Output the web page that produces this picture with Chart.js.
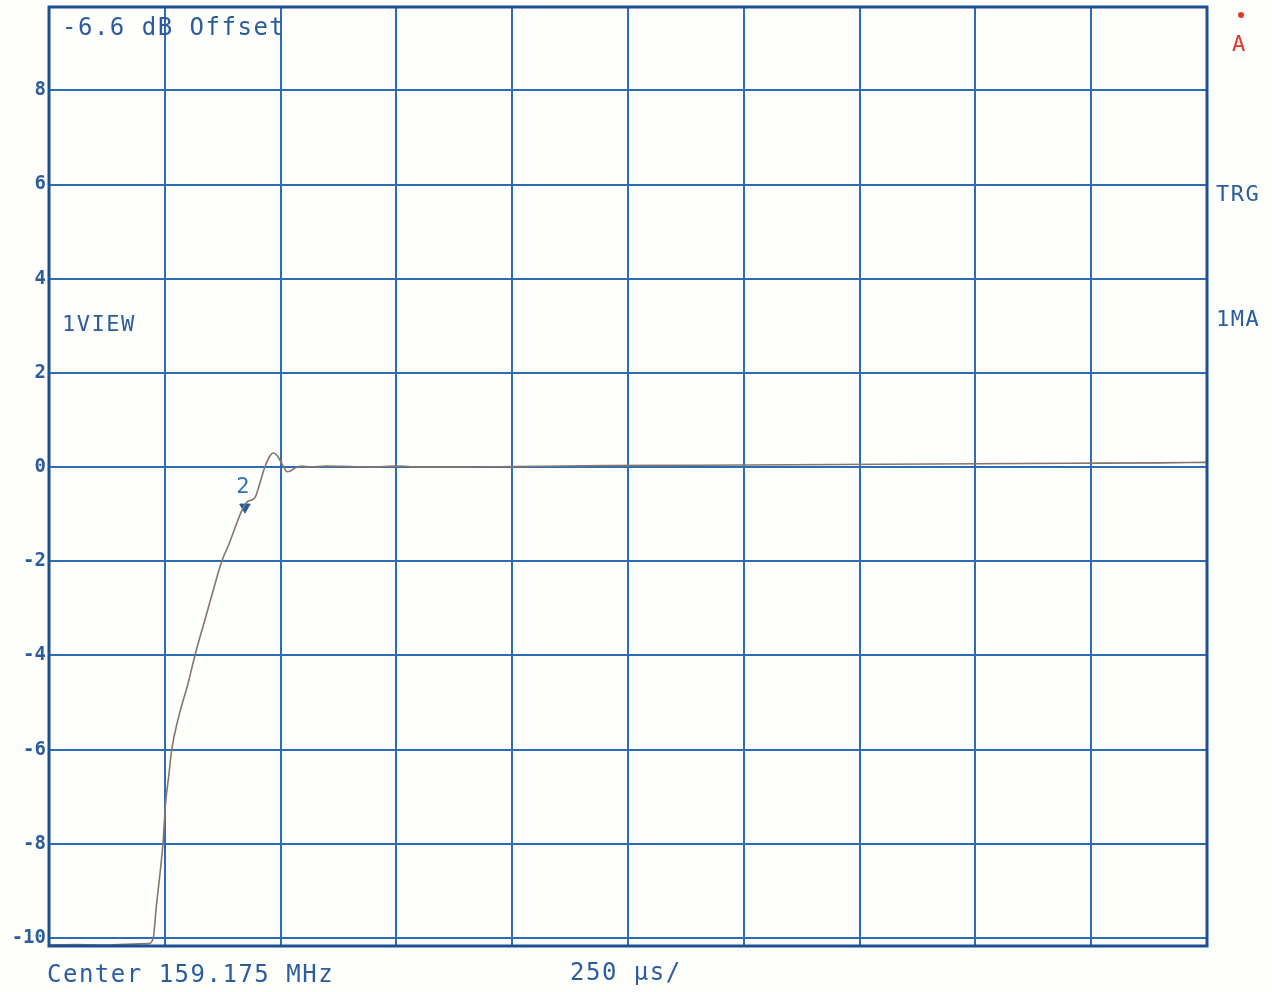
<!DOCTYPE html>
<html>
<head>
<meta charset="utf-8">
<script src="https://cdn.jsdelivr.net/npm/chart.js@4/dist/chart.umd.min.js"></script>
<style>
  body { margin: 0; background: #fefefd; }
  #wrap { width: 1272px; height: 992px; position: relative; }
</style>
</head>
<body>
<div id="wrap"><canvas id="myChart"></canvas></div>
<script>
// trace: time in µs from left edge, level in dB
var timeUs = [0, 60, 120, 180, 215, 225, 232, 240, 246, 252, 258, 265, 280, 300, 315, 335, 355, 373, 390, 405,
              415, 423, 430, 438, 446, 455, 466, 476, 484, 492, 500, 507, 514, 522, 531, 545, 563, 600, 650, 700,
              750, 800, 900, 1000, 1200, 1400, 1600, 1800, 2000, 2200, 2400, 2500];
var levelDb = [-10.15, -10.14, -10.15, -10.13, -10.12, -10.0, -9.3, -8.6, -8.0, -7.1, -6.6, -6.0, -5.3, -4.6, -4.0, -3.3, -2.6, -2.0, -1.6, -1.2,
               -0.95, -0.8, -0.72, -0.7, -0.62, -0.35, 0.0, 0.22, 0.3, 0.25, 0.12, 0.0, -0.1, -0.08, -0.02, 0.02, 0.0, 0.02, 0.01, 0.0,
               0.02, 0.0, 0.0, 0.01, 0.03, 0.04, 0.05, 0.06, 0.07, 0.08, 0.09, 0.1];

// marker 2
var markerTime = [423];
var markerLevel = [-0.85];
var markerLabel = ["2"];

// y tick labels (dB)
var yTicks = [-10, -8, -6, -4, -2, 0, 2, 4, 6, 8];

var blue = '#2c6cb4';
var darkBlue = '#1d4f94';
var textBlue = '#2a5c9e';
var mono = '"DejaVu Sans Mono", monospace';

var traceData = [];
for (var i = 0; i < timeUs.length; i++) {
    traceData.push({x: timeUs[i], y: levelDb[i]});
}
var markerData = [];
for (var j = 0; j < markerTime.length; j++) {
    markerData.push({x: markerTime[j], y: markerLevel[j]});
}

function drawText(ctx, txt, x, y, size, color, spacing) {
    ctx.save();
    ctx.font = size + 'px ' + mono;
    ctx.fillStyle = color;
    ctx.textBaseline = 'middle';
    ctx.textAlign = 'left';
    ctx.letterSpacing = (spacing || 0) + 'px';
    ctx.fillText(txt, x, y);
    ctx.restore();
}

// frame + screen annotations
var screenText = {
    id: 'screenText',
    afterDraw: function(chart) {
        var ctx = chart.ctx;
        var a = chart.chartArea;
        ctx.save();
        ctx.strokeStyle = darkBlue;
        ctx.lineWidth = 3;
        ctx.strokeRect(a.left, a.top, a.right - a.left, a.bottom - a.top);
        ctx.restore();

        drawText(ctx, '-6.6 dB Offset', 62, 29, 24, textBlue, 1.5);
        drawText(ctx, '1VIEW', 62, 325, 22, textBlue, 1.5);
        drawText(ctx, 'TRG', 1216, 195, 22, textBlue, 1.5);
        drawText(ctx, '1MA', 1216, 320, 22, textBlue, 1.5);
        drawText(ctx, 'A', 1232, 45, 22, '#e23a2a', 0);
        drawText(ctx, 'Center 159.175 MHz', 47, 976, 24, textBlue, 1.5);
        drawText(ctx, '250 \u00b5s/', 570, 974, 24, textBlue, 1.5);

        ctx.save();
        ctx.fillStyle = '#e23a2a';
        ctx.beginPath();
        ctx.arc(1241, 15, 3, 0, Math.PI * 2);
        ctx.fill();
        ctx.restore();

        // marker number above the triangle
        var xs = chart.scales.x, ys = chart.scales.y;
        for (var k = 0; k < markerTime.length; k++) {
            var px = xs.getPixelForValue(markerTime[k]);
            var py = ys.getPixelForValue(markerLevel[k]);
            ctx.save();
            ctx.font = '22px ' + mono;
            ctx.fillStyle = '#2f72c0';
            ctx.textAlign = 'center';
            ctx.textBaseline = 'middle';
            ctx.fillText(markerLabel[k], px - 2, py - 20);
            ctx.restore();
        }
    }
};

const ctx = document.getElementById('myChart');

new Chart(ctx, {
    type: 'line',
    data: {
        datasets: [{
            label: 'trace',
            data: traceData,
            borderColor: '#85766c',
            borderWidth: 1.6,
            pointRadius: 0,
            cubicInterpolationMode: 'monotone',
            fill: false
        }, {
            label: 'marker',
            data: markerData,
            showLine: false,
            pointStyle: 'triangle',
            rotation: 180,
            pointRadius: 6,
            backgroundColor: '#1f5aa0',
            borderColor: '#1f5aa0'
        }]
    },
    options: {
        responsive: true,
        maintainAspectRatio: false,
        animation: false,
        layout: { padding: { left: 0, right: 65, top: 7, bottom: 46 } },
        plugins: {
            legend: { display: false },
            tooltip: { enabled: false }
        },
        scales: {
            x: {
                type: 'linear',
                min: 0,
                max: 2500,
                ticks: { stepSize: 250, display: false },
                grid: { color: blue, lineWidth: 2, drawTicks: false },
                border: { display: false },
                afterFit: function(scale) { scale.height = 0; }
            },
            y: {
                min: -10.17,
                max: 9.77,
                afterBuildTicks: function(scale) {
                    scale.ticks = yTicks.map(function(v) { return {value: v}; });
                },
                ticks: {
                    color: textBlue,
                    padding: 3,
                    font: { family: 'DejaVu Sans Mono', size: 19, weight: 'bold' },
                    callback: function(v) { return String(v); }
                },
                grid: { color: blue, lineWidth: 2, drawTicks: false },
                border: { display: false },
                afterFit: function(scale) {
                    scale.width = 49;
                    scale.paddingTop = 0;
                    scale.paddingBottom = 0;
                }
            }
        }
    },
    plugins: [screenText]
});
</script>
</body>
</html>
